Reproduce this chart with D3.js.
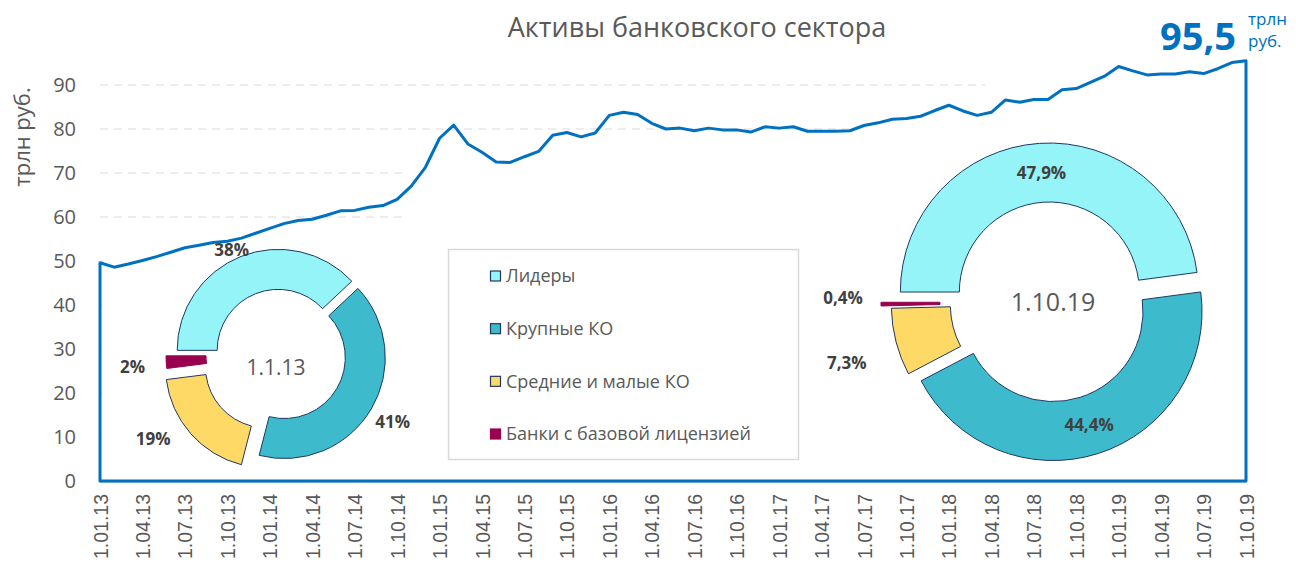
<!DOCTYPE html>
<html>
<head>
<meta charset="utf-8">
<script src="https://cdn.jsdelivr.net/npm/d3@7"></script>
<style>
  body { margin: 0; background: #fff; }
  text { font-family: "Open Sans", sans-serif; }
</style>
</head>
<body>
<div id="chart"></div>
<script>
// monthly total assets, trn rub, 1.01.13 .. 1.10.19
var assets = [
  49.6, 48.6, 49.3, 50.1, 51.0, 52.0, 53.0, 53.6, 54.2, 54.5, 55.2, 56.3,
  57.4, 58.5, 59.2, 59.5, 60.4, 61.4, 61.5, 62.2, 62.6, 64.0, 67.0, 71.3,
  77.9, 80.9, 76.6, 74.7, 72.5, 72.4, 73.7, 74.9, 78.6, 79.2, 78.2, 79.1,
  83.1, 83.8, 83.3, 81.3, 80.0, 80.2, 79.6, 80.2, 79.8, 79.8, 79.3, 80.5,
  80.2, 80.5, 79.5, 79.5, 79.5, 79.6, 80.8, 81.4, 82.2, 82.4, 82.9, 84.2,
  85.4, 84.1, 83.1, 83.8, 86.6, 86.1, 86.7, 86.7, 88.9, 89.2, 90.6, 92.0,
  94.2, 93.2, 92.3, 92.5, 92.5, 93.0, 92.6, 93.7, 95.1, 95.5
];
var quarterLabels = [
  "1.01.13", "1.04.13", "1.07.13", "1.10.13", "1.01.14", "1.04.14", "1.07.14",
  "1.10.14", "1.01.15", "1.04.15", "1.07.15", "1.10.15", "1.01.16", "1.04.16",
  "1.07.16", "1.10.16", "1.01.17", "1.04.17", "1.07.17", "1.10.17", "1.01.18",
  "1.04.18", "1.07.18", "1.10.18", "1.01.19", "1.04.19", "1.07.19", "1.10.19"
];
var yTicks = [0, 10, 20, 30, 40, 50, 60, 70, 80, 90];

var groups = ["Лидеры", "Крупные КО", "Средние и малые КО", "Банки с базовой лицензией"];
var groupColors = ["#94F4F8", "#3DBBCC", "#FFD966", "#990050"];
var share2013 = [38, 41, 19, 2];
var share2013Labels = ["38%", "41%", "19%", "2%"];
var share2019 = [47.9, 44.4, 7.3, 0.4];
var share2019Labels = ["47,9%", "44,4%", "7,3%", "0,4%"];

var W = 1296, H = 567;
var svg = d3.select("#chart").append("svg")
    .attr("width", W)
    .attr("height", H);

var x = d3.scaleLinear().domain([0, assets.length - 1]).range([100, 1246]);
var y = d3.scaleLinear().domain([0, 90]).range([481, 85]);

// dashed gridlines
svg.append("g")
  .selectAll("line")
  .data(yTicks.slice(1))
  .join("line")
    .attr("x1", x(0)).attr("x2", x(assets.length - 1))
    .attr("y1", function(d) { return y(d); })
    .attr("y2", function(d) { return y(d); })
    .attr("stroke", "#e6e6e6")
    .attr("stroke-width", 1.3)
    .attr("stroke-dasharray", "8,6");

// white chart-area backgrounds of the donuts / legend hide part of the grid
var panels = [
  {x: 102, y: 228, w: 300, h: 244},
  {x: 402, y: 150, w: 450, h: 322},
  {x: 852, y: 95, w: 392, h: 377},
  {x: 985, y: 50, w: 259, h: 50}
];
svg.append("g").selectAll("rect")
  .data(panels)
  .join("rect")
    .attr("x", function(d) { return d.x; })
    .attr("y", function(d) { return d.y; })
    .attr("width", function(d) { return d.w; })
    .attr("height", function(d) { return d.h; })
    .attr("fill", "#fff");

// y axis
var yAxis = svg.append("g")
    .attr("transform", "translate(100,0)")
    .call(d3.axisLeft(y).tickValues(yTicks).tickSize(0).tickPadding(24));
yAxis.select(".domain").remove();
yAxis.selectAll("text")
    .style("font-family", "Open Sans")
    .style("font-size", "20px")
    .attr("fill", "#595959");

svg.append("text")
    .attr("transform", "translate(30,137) rotate(-90)")
    .attr("text-anchor", "middle")
    .style("font-size", "22px")
    .attr("fill", "#595959")
    .text("трлн руб.");

// x axis
svg.append("line")
    .attr("x1", x(0)).attr("x2", x(assets.length - 1))
    .attr("y1", 482.5).attr("y2", 482.5)
    .attr("stroke", "#d9d9d9")
    .attr("stroke-width", 1.5);

var xAxis = svg.append("g")
    .attr("transform", "translate(0,481)")
    .call(d3.axisBottom(x)
        .tickValues(d3.range(0, assets.length, 3))
        .tickSize(0)
        .tickFormat(function(d) { return quarterLabels[d / 3]; }));
xAxis.select(".domain").remove();
xAxis.selectAll("text")
    .attr("transform", "rotate(-90)")
    .attr("x", -13)
    .attr("y", 0)
    .attr("dy", "0.36em")
    .style("text-anchor", "end")
    .style("font-family", "Liberation Sans")
    .style("font-size", "19.5px")
    .attr("fill", "#595959");

// donuts
function drawDonut(values, labels, opt) {
  var pie = d3.pie().sort(null)
      .startAngle(-Math.PI / 2)
      .endAngle(3 * Math.PI / 2);
  var arc = d3.arc().innerRadius(opt.inner).outerRadius(opt.outer);
  var arcs = pie(values);
  var g = svg.append("g")
      .attr("transform", "translate(" + opt.cx + "," + opt.cy + ")");

  g.selectAll("path")
    .data(arcs)
    .join("path")
      .attr("transform", function(d, i) {
        var a = (d.startAngle + d.endAngle) / 2;
        var e = opt.explode[i];
        return "translate(" + (e * Math.sin(a)) + "," + (-e * Math.cos(a)) + ")";
      })
      .attr("d", arc)
      .attr("fill", function(d, i) { return groupColors[i]; })
      .attr("stroke", function(d, i) { return i == 3 ? "#990050" : "#1F3864"; })
      .attr("stroke-width", 1);

  g.selectAll("text.pct")
    .data(arcs)
    .join("text")
      .attr("class", "pct")
      .attr("x", function(d, i) {
        var a = (d.startAngle + d.endAngle) / 2 + opt.labelShift[i] * Math.PI / 180;
        return opt.labelR[i] * Math.sin(a);
      })
      .attr("y", function(d, i) {
        var a = (d.startAngle + d.endAngle) / 2 + opt.labelShift[i] * Math.PI / 180;
        return -opt.labelR[i] * Math.cos(a);
      })
      .attr("dy", "0.36em")
      .attr("text-anchor", "middle")
      .style("font-size", "17px")
      .style("font-weight", "bold")
      .attr("fill", "#404040")
      .text(function(d, i) { return labels[i]; });

  g.append("text")
      .attr("x", opt.titleDx)
      .attr("dy", "0.36em")
      .attr("y", opt.titleDy)
      .attr("text-anchor", "middle")
      .style("font-size", opt.titleSize)
      .attr("fill", "#595959")
      .text(opt.title);
}

drawDonut(share2013, share2013Labels, {
  cx: 280, cy: 355, inner: 61, outer: 101,
  explode: [5, 5, 18, 13],
  labelR: [116, 131, 152, 148], labelShift: [-3, 0, 8, -1],
  title: "1.1.13", titleSize: "21px", titleDx: -4, titleDy: 12
});

drawDonut(share2019, share2019Labels, {
  cx: 1050, cy: 302, inner: 90, outer: 149,
  explode: [10, 10, 10, 20],
  labelR: [129, 129, 212, 207], labelShift: [0, 0, -2, 2],
  title: "1.10.19", titleSize: "25px", titleDx: 3, titleDy: 0
});

// legend
var legend = svg.append("g");
legend.append("rect")
    .attr("x", 448.5).attr("y", 249.5)
    .attr("width", 350).attr("height", 210)
    .attr("fill", "#fff")
    .attr("stroke", "#d9d9d9")
    .attr("stroke-width", 1.5);

var rowY = d3.scalePoint().domain(groups).range([276, 434]);
var item = legend.selectAll("g.item")
  .data(groups)
  .join("g")
    .attr("class", "item")
    .attr("transform", function(d) { return "translate(490," + rowY(d) + ")"; });
item.append("rect")
    .attr("x", 0.5).attr("y", -5)
    .attr("width", 10).attr("height", 10)
    .attr("fill", function(d, i) { return groupColors[i]; })
    .attr("stroke", function(d, i) { return i == 3 ? "#990050" : "#1F3864"; })
    .attr("stroke-width", 1.2);
item.append("text")
    .attr("x", 16)
    .attr("dy", "0.36em")
    .style("font-size", "18px")
    .attr("fill", "#595959")
    .text(function(d) { return d; });

// main series: outline of an area from the axis
var area = d3.area()
    .x(function(d, i) { return x(i); })
    .y0(y(0))
    .y1(function(d) { return y(d); });
svg.append("path")
    .datum(assets)
    .attr("d", area)
    .attr("fill", "none")
    .attr("stroke", "#0070C0")
    .attr("stroke-width", 3)
    .attr("stroke-linejoin", "round");

// title
svg.append("text")
    .attr("x", 697)
    .attr("y", 37)
    .attr("text-anchor", "middle")
    .style("font-size", "27px")
    .attr("fill", "#595959")
    .text("Активы банковского сектора");

// last value callout
svg.append("text")
    .attr("x", 1236)
    .attr("y", 50)
    .attr("text-anchor", "end")
    .style("font-size", "38px")
    .style("font-weight", "bold")
    .attr("fill", "#0070C0")
    .text(String(assets[assets.length - 1]).replace(".", ","));
svg.append("text")
    .attr("x", 1248)
    .attr("y", 25)
    .style("font-size", "17px")
    .attr("fill", "#0070C0")
    .text("трлн");
svg.append("text")
    .attr("x", 1248)
    .attr("y", 47)
    .style("font-size", "17px")
    .attr("fill", "#0070C0")
    .text("руб.");
</script>
</body>
</html>
